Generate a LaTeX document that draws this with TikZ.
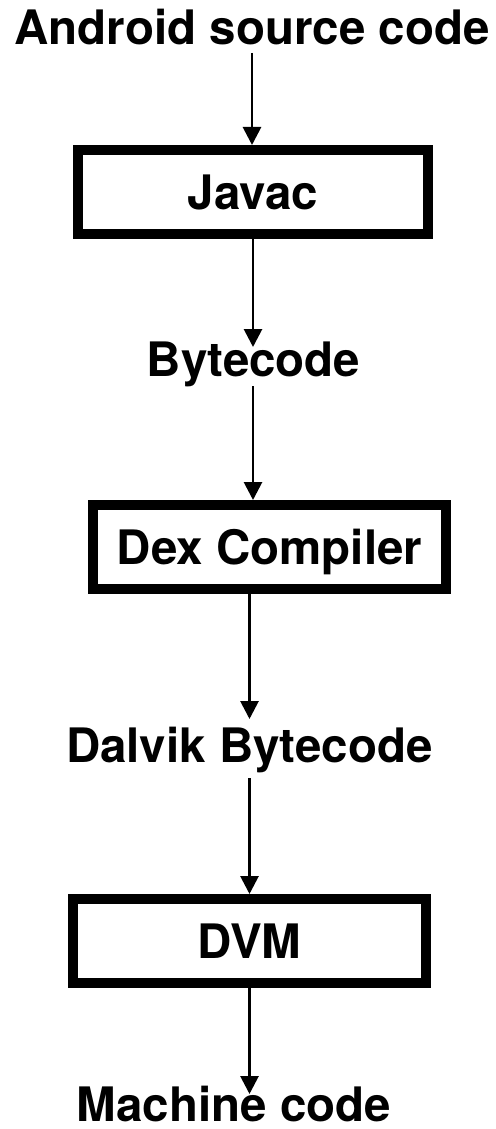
\documentclass[tikz,border=0pt]{standalone}
\usepackage{fontspec}
\setmainfont{TeX Gyre Heros}
\usetikzlibrary{arrows.meta}
\begin{document}
\begin{tikzpicture}[x=1pt,y=-1pt,
  lbl/.style={font=\fontsize{47.5}{50}\selectfont\bfseries, inner sep=0pt, anchor=base},
  stage/.style={draw, line width=10pt, font=\fontsize{47.5}{50}\selectfont\bfseries,
    text height=34pt, text depth=0pt, inner sep=0pt, minimum height=84pt},
  arr/.style={line width=2.8pt, -{Triangle[width=18pt,length=18pt]}}]
\useasboundingbox (0,0) rectangle (495,1129);
\node[lbl] (src) at (252,45) {Android source code};
\node[stage, minimum width=350pt] (javac) at (253,192) {Javac};
\node[lbl] (byte) at (253.5,376) {Bytecode};
\node[stage, minimum width=353pt] (dex) at (269.5,547) {Dex Compiler};
\node[lbl] (dalvik) at (249.5,762) {Dalvik Bytecode};
\node[stage, minimum width=353pt] (dvm) at (249.5,941) {DVM};
\node[lbl] (mach) at (234,1121) {Machine code};
\draw[arr] ([yshift=-8pt]src.base) -- (src.base |- javac.north);
\draw[arr] (javac.south) -- ([yshift=29pt]javac.south |- byte.base);
\draw[arr] ([yshift=-10pt]javac.south |- byte.base) -- (javac.south |- dex.north);
\draw[arr] (dalvik.base |- dex.south) -- ([yshift=43pt]dalvik.base);
\draw[arr] ([yshift=-16pt]dalvik.base) -- (dvm.north);
\draw[arr] (dvm.south) -- ([yshift=27pt]dvm.south |- mach.base);
\end{tikzpicture}
\end{document}
